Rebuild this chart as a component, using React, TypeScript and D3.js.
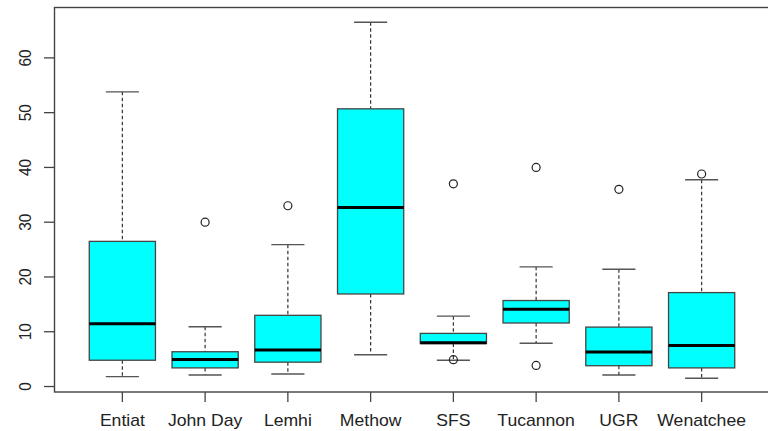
import React from "react";
import * as d3 from "d3";

// Site names along the x axis
const sites = ["Entiat", "John Day", "Lemhi", "Methow", "SFS", "Tucannon", "UGR", "Wenatchee"];

// Five-number summaries per site (lower whisker, Q1, median, Q3, upper whisker)
const lowerWhisker = [1.8, 2.1, 2.3, 5.8, 4.8, 7.9, 2.1, 1.5];
const q1 = [4.8, 3.4, 4.45, 16.9, 7.85, 11.6, 3.8, 3.4];
const median = [11.45, 4.95, 6.65, 32.7, 8.0, 14.1, 6.3, 7.5];
const q3 = [26.5, 6.35, 13.0, 50.7, 9.7, 15.7, 10.85, 17.15];
const upperWhisker = [53.8, 10.9, 25.9, 66.5, 12.85, 21.85, 21.4, 37.75];

// Outlying points per site
const outliers: number[][] = [[], [30.0], [33.0], [], [37.0, 4.9], [40.0, 3.85], [36.0], [38.8]];

const yTicks = [0, 10, 20, 30, 40, 50, 60];

const W = 768;
const H = 431;
const left = 54.5;
const top = 7.5;
const bottom = 392;
const right = 769.5;

export default function App() {
  const x = d3.scaleLinear().domain([0.18, 8.82]).range([left, right]);
  const y = d3.scaleLinear().domain([-1.0, 69.2]).range([bottom, top]);
  const step = x(2) - x(1);
  const boxW = step * 0.8;
  const capW = boxW / 2;
  const font = "'Liberation Sans', Arial, sans-serif";

  return (
    <svg width={W} height={H} style={{ position: "absolute", left: 0, top: 0, background: "#fff" }}>
      {/* boxes */}
      {sites.map((s, i) => {
        const cx = x(i + 1);
        return (
          <g key={s}>
            <line x1={cx} x2={cx} y1={y(upperWhisker[i])} y2={y(q3[i])} stroke="#333" strokeWidth={1.2} strokeDasharray="3.5,2.5" />
            <line x1={cx} x2={cx} y1={y(q1[i])} y2={y(lowerWhisker[i])} stroke="#333" strokeWidth={1.2} strokeDasharray="3.5,2.5" />
            <line x1={cx - capW / 2} x2={cx + capW / 2} y1={y(upperWhisker[i])} y2={y(upperWhisker[i])} stroke="#555" strokeWidth={1.4} />
            <line x1={cx - capW / 2} x2={cx + capW / 2} y1={y(lowerWhisker[i])} y2={y(lowerWhisker[i])} stroke="#555" strokeWidth={1.4} />
            <rect x={cx - boxW / 2} y={y(q3[i])} width={boxW} height={y(q1[i]) - y(q3[i])} fill="#00FFFF" stroke="#444" strokeWidth={1.3} />
            <line x1={cx - boxW / 2} x2={cx + boxW / 2} y1={y(median[i])} y2={y(median[i])} stroke="#000" strokeWidth={3} />
            {outliers[i].map((v, j) => (
              <circle key={j} cx={cx} cy={y(v)} r={4} fill="none" stroke="#222" strokeWidth={1.2} />
            ))}
          </g>
        );
      })}

      {/* frame */}
      <rect x={left} y={top} width={right - left} height={bottom - top} fill="none" stroke="#444" strokeWidth={1.4} />

      {/* y axis */}
      {yTicks.map((t) => (
        <g key={t}>
          <line x1={left - 10.5} x2={left} y1={y(t)} y2={y(t)} stroke="#444" strokeWidth={1.3} />
          <text
            transform={`translate(30.5,${y(t)}) scale(1.12,1) rotate(-90)`}
            textAnchor="middle"
            fontFamily={font}
            fontSize={15.5}
            fill="#222"
          >
            {t}
          </text>
        </g>
      ))}

      {/* x axis */}
      {sites.map((s, i) => (
        <g key={s}>
          <line x1={x(i + 1)} x2={x(i + 1)} y1={bottom} y2={bottom + 10} stroke="#444" strokeWidth={1.3} />
          <text
            transform={`translate(${x(i + 1)},426) scale(1.1,1)`}
            textAnchor="middle"
            fontFamily={font}
            fontSize={16}
            fill="#222"
          >
            {s}
          </text>
        </g>
      ))}
    </svg>
  );
}
